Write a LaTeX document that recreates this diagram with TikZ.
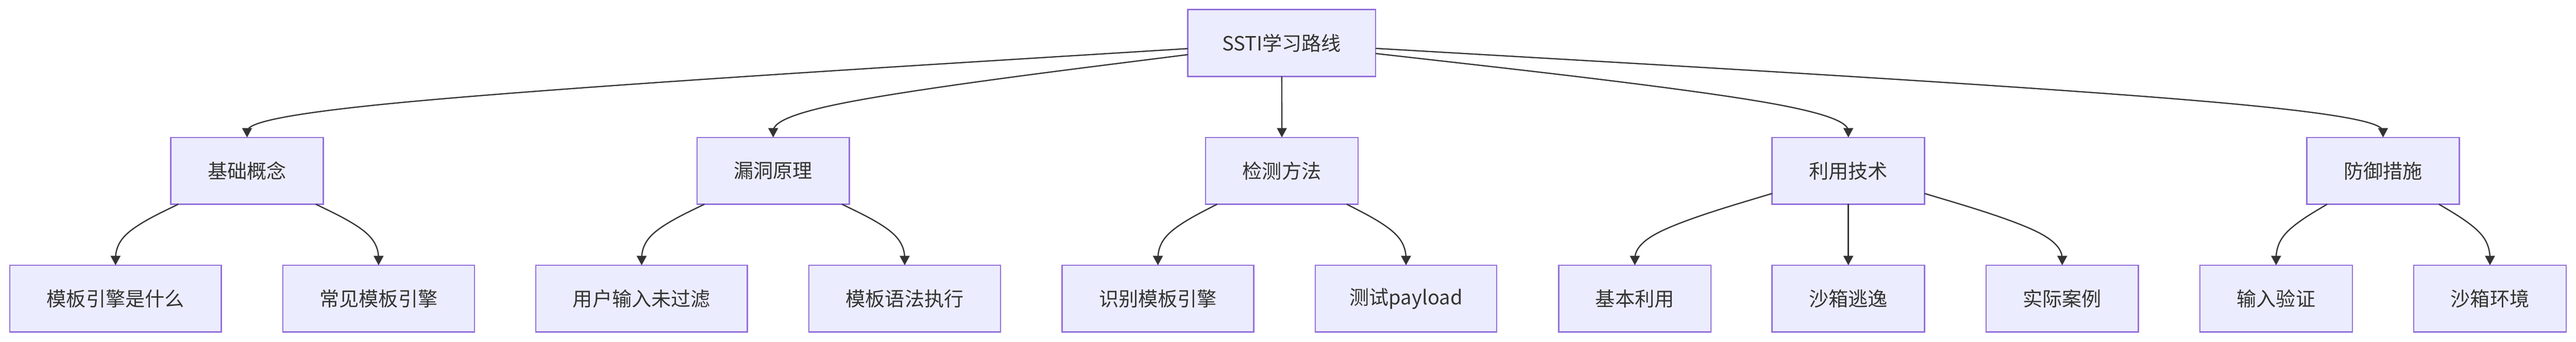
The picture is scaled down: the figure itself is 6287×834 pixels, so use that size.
\documentclass[tikz,border=0pt]{standalone}
\usepackage{fontspec}
\setmainfont{Noto Sans CJK SC}
\usetikzlibrary{arrows.meta,calc}
\definecolor{nodefill}{HTML}{ECECFF}
\definecolor{nodeline}{HTML}{9370DB}
\definecolor{ink}{HTML}{333333}
\tikzset{
  box/.style={draw=nodeline, fill=nodefill, line width=3pt, minimum height=163pt,
    inner sep=0pt, outer sep=0pt, text=ink, font=\fontsize{48}{58}\selectfont},
  wfour/.style={box, minimum width=372pt},
  wsix/.style={box, minimum width=468pt},
  wseven/.style={box, minimum width=516pt},
  edge/.style={draw=ink, line width=3pt, -{Triangle[length=23pt,width=24pt]}}
}
\newcommand\mmedge[3]{%
  \coordinate (#1-#2-m) at (#2.north |- 0,#3);
  \path (#1) -- (#1-#2-m) coordinate[pos=0] (#1-#2-s);
  \coordinate (#1-#2-h) at ($(#1-#2-s)!0.5!(#2.north)$);
  \draw[edge] (#1-#2-s) -- ($(#1-#2-s)!1/6!(#1-#2-m)$)
    .. controls ($(#1-#2-s)!1/3!(#1-#2-m)$) and ($(#1-#2-s)!2/3!(#1-#2-m)$)
    .. ($(#1-#2-m)!1/3!(#1-#2-h)$)
    .. controls ($(#1-#2-m)!1/3!(#2.north)$) and ($(#1-#2-m)!2/3!(#2.north)$)
    .. ($(#1-#2-m)!5/6!(#2.north)$) -- (#2.north);
}
\begin{document}
\begin{tikzpicture}[x=1pt,y=-1pt]
\useasboundingbox (0,0) rectangle (6287,834);
% root
\node[box, minimum width=458pt] (root) at (3128,105) {SSTI学习路线};
% level 2
\node[wfour] (jc) at (603,417) {基础概念};
\node[wfour] (ly) at (1887,417) {漏洞原理};
\node[wfour] (jf) at (3128.5,417) {检测方法};
\node[wfour] (ls) at (4511,417) {利用技术};
\node[wfour] (fy) at (5816,417) {防御措施};
% level 3
\node[wseven] (a1) at (282,729) {模板引擎是什么};
\node[wsix] (a2) at (924,729) {常见模板引擎};
\node[wseven] (b1) at (1566,729) {用户输入未过滤};
\node[wsix] (b2) at (2208,729) {模板语法执行};
\node[wsix] (c1) at (2826,729) {识别模板引擎};
\node[box, minimum width=443pt] (c2) at (3431.5,729) {测试payload};
\node[wfour] (d1) at (3990,729) {基本利用};
\node[wfour] (d2) at (4511,729) {沙箱逃逸};
\node[wfour] (d3) at (5033,729) {实际案例};
\node[wfour] (e1) at (5555,729) {输入验证};
\node[wfour] (e2) at (6077,729) {沙箱环境};
% edges
\mmedge{root}{jc}{261}
\mmedge{root}{ly}{261}
\mmedge{root}{jf}{261}
\mmedge{root}{ls}{261}
\mmedge{root}{fy}{261}
\mmedge{jc}{a1}{573}
\mmedge{jc}{a2}{573}
\mmedge{ly}{b1}{573}
\mmedge{ly}{b2}{573}
\mmedge{jf}{c1}{573}
\mmedge{jf}{c2}{573}
\mmedge{ls}{d1}{573}
\mmedge{ls}{d2}{573}
\mmedge{ls}{d3}{573}
\mmedge{fy}{e1}{573}
\mmedge{fy}{e2}{573}
\end{tikzpicture}
\end{document}
